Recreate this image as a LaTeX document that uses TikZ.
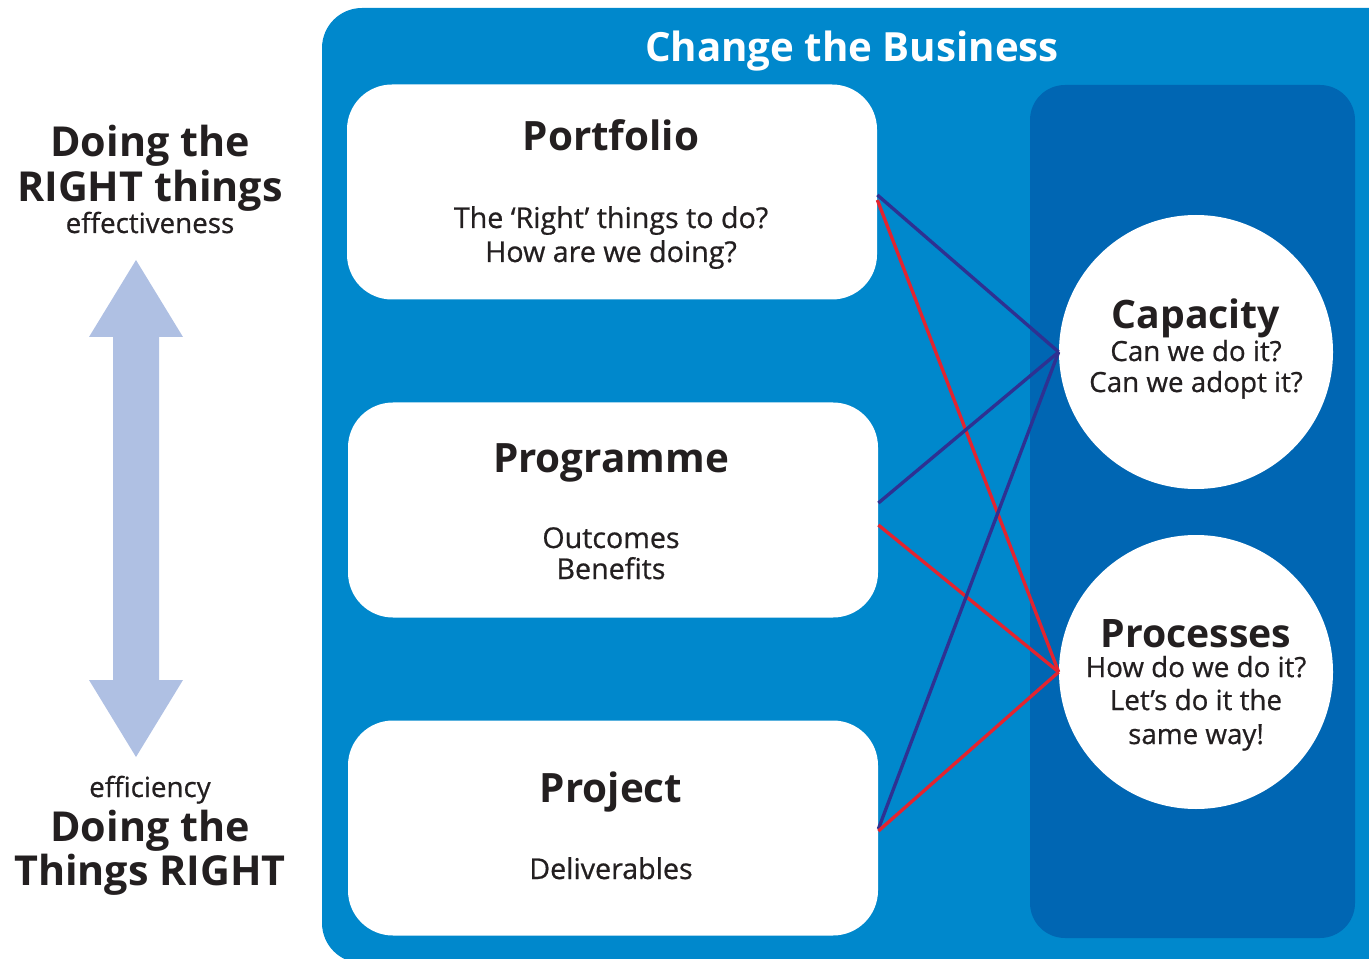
\documentclass[tikz,border=0pt]{standalone}
\usepackage{fontspec}
\setmainfont{Open Sans}
\newfontfamily\semib{Open Sans}[FakeBold=0.7]
\usetikzlibrary{calc}
\definecolor{panelblue}{HTML}{0088CC}
\definecolor{darkpanel}{HTML}{0066B3}
\definecolor{lineblue}{HTML}{2E3192}
\definecolor{linered}{HTML}{E3242F}
\definecolor{txt}{HTML}{231F20}
\definecolor{arrowblue}{HTML}{AFC0E3}
\tikzset{
  box/.style={fill=white, rounded corners=0.9cm, minimum width=530*0.02cm, minimum height=215*0.02cm, inner sep=0pt},
  circ/.style={circle, fill=white, minimum size=274*0.02cm, inner sep=0pt},
  bigtitle/.style={font=\bfseries\fontsize{23}{28}\selectfont, text=txt, inner sep=0pt, anchor=base},
  subtxt/.style={font=\semib\fontsize{16.3}{19}\selectfont, text=txt, inner sep=0pt, anchor=base, align=center},
  ctitle/.style={font=\bfseries\fontsize{22.3}{24}\selectfont, text=txt, inner sep=0pt, anchor=base},
  csub/.style={font=\semib\fontsize{15.8}{18.8}\selectfont, text=txt, inner sep=0pt, anchor=base},
  lefttitle/.style={font=\bfseries\fontsize{23.5}{25}\selectfont, text=txt, inner sep=0pt, anchor=base},
  leftsub/.style={font=\semib\fontsize{15.8}{16}\selectfont, text=txt, inner sep=0pt, anchor=base},
  bluelink/.style={draw=lineblue, line width=1.9pt},
  redlink/.style={draw=linered, line width=1.9pt},
}
\begin{document}
\begin{tikzpicture}[x=0.02cm, y=-0.02cm]
\useasboundingbox (0,0) rectangle (1369,959);
\clip (0,0) rectangle (1369,959);
% panels
\fill[panelblue, rounded corners=0.8cm] (322,8) rectangle (1420,963);
\fill[darkpanel, rounded corners=0.7cm] (1030,85) rectangle (1355,938);
\node[font=\bfseries\fontsize{22.9}{26}\selectfont, text=white, inner sep=0pt, anchor=base] (cb) at (852,62) {Change the Business};
% boxes
\node[box] (pf) at (612,192) {};
\node[box] (pg) at (613,510) {};
\node[box] (pj) at (613,828) {};
\node[bigtitle] (pft) at (611,151) {Portfolio};
\node[subtxt] (pfs1) at (611,228) {The ‘Right’ things to do?};
\node[subtxt] (pfs2) at (611,262) {How are we doing?};
\node[bigtitle] (pgt) at (611,472) {Programme};
\node[subtxt] (pgs1) at (611,548) {Outcomes};
\node[subtxt] (pgs2) at (611,579) {Benefits};
\node[bigtitle] (pjt) at (611,802) {Project};
\node[subtxt] (pjs) at (611,879) {Deliverables};
% circles
\node[circ] (cap) at (1196,352) {};
\node[circ] (proc) at (1196,672) {};
\node[ctitle] (capt) at (1196,329) {Capacity};
\node[csub] (caps1) at (1196,361) {Can we do it?};
\node[csub] (caps2) at (1196,392) {Can we adopt it?};
\node[ctitle] (proct) at (1196,647) {Processes};
\node[csub] (procs1) at (1196,677) {How do we do it?};
\node[csub] (procs2) at (1196,710) {Let’s do it the};
\node[csub] (procs3) at (1196,744) {same way!};
% links
\draw[bluelink] ($(pf.east)+(0,3)$) -- (cap.west);
\draw[redlink] ($(pf.east)+(0,8)$) -- (proc.west);
\draw[bluelink] ($(pg.east)+(0,-7)$) -- (cap.west);
\draw[redlink] ($(pg.east)+(0,15)$) -- (proc.west);
\draw[bluelink] ($(pj.east)+(0,1)$) -- (cap.west);
\draw[redlink] ($(pj.east)+(0,3)$) -- (proc.west);
% left side
\fill[arrowblue] (136,260) -- (183,337) -- (159,337) -- (159,680) -- (183,680) -- (136,757) -- (89,680) -- (113,680) -- (113,337) -- (89,337) -- cycle;
\node[lefttitle] (l1) at (150,157) {Doing the};
\node[lefttitle] (l2) at (150,202) {RIGHT things};
\node[leftsub] (l3) at (150,233) {effectiveness};
\node[leftsub] (l4) at (150,797) {efficiency};
\node[lefttitle] (l5) at (150,841) {Doing the};
\node[lefttitle] (l6) at (150,885) {Things RIGHT};
\end{tikzpicture}
\end{document}
